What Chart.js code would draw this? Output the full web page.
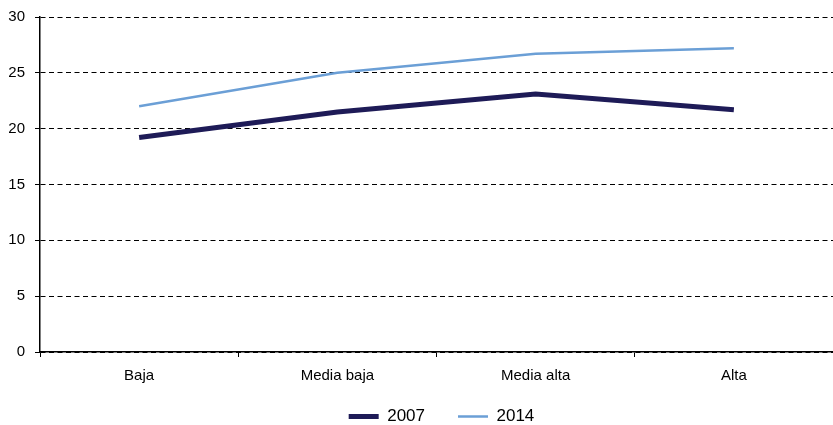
<!DOCTYPE html>
<html>
<head>
<meta charset="utf-8">
<script src="https://cdn.jsdelivr.net/npm/chart.js@4.4.1/dist/chart.umd.min.js"></script>
<style>
    html, body { margin: 0; padding: 0; background: #fff; }
    #wrap { width: 833px; height: 425px; position: relative; }
</style>
</head>
<body>
<div id="wrap"><canvas id="chart"></canvas></div>
<script>
// Categories and series
const categories = ['Baja', 'Media baja', 'Media alta', 'Alta'];
const values2007 = [19.2, 21.5, 23.1, 21.7];
const values2014 = [22.0, 25.0, 26.7, 27.2];
const seriesNames = ['2007', '2014'];
const yTicks = [0, 5, 10, 15, 20, 25, 30];

const FONT = '"Liberation Sans", Arial, sans-serif';

/**
 * Keep the legend strip short, but leave wide gaps between its items
 */
const legendPlacement = {
    id: 'legendPlacement',
    beforeInit(chart) {
        const fit = chart.legend.fit;
        chart.legend.fit = function() {
            fit.bind(chart.legend)();
            this.height = 30;
        };
    },
    afterLayout(chart) {
        const legend = chart.legend;
        legend.top -= 20;
        legend.left += 25;
        legend.right += 25;
    }
};

const ctx = document.getElementById('chart').getContext('2d');

new Chart(ctx, {
    type: 'line',
    data: {
        labels: categories,
        datasets: [
            {
                label: seriesNames[0],
                data: values2007,
                borderColor: '#1e1b57',
                backgroundColor: '#1e1b57',
                borderWidth: 5,
                pointRadius: 0,
                tension: 0
            },
            {
                label: seriesNames[1],
                data: values2014,
                borderColor: '#6b9fd6',
                backgroundColor: '#6b9fd6',
                borderWidth: 2.5,
                pointRadius: 0,
                tension: 0
            }
        ]
    },
    options: {
        responsive: true,
        maintainAspectRatio: false,
        animation: false,
        layout: {
            padding: { top: 17, right: 0, left: 0, bottom: 0 }
        },
        plugins: {
            legend: {
                position: 'bottom',
                labels: {
                    usePointStyle: true,
                    pointStyle: 'line',
                    pointStyleWidth: 30,
                    boxHeight: 17,
                    padding: 33,
                    color: '#000',
                    font: { family: FONT, size: 17 }
                }
            },
            tooltip: { enabled: false }
        },
        scales: {
            x: {
                offset: true,
                afterFit: function(scale) {
                    scale.height = 43;
                },
                grid: {
                    offset: true,
                    drawOnChartArea: false,
                    drawTicks: true,
                    tickLength: 5,
                    color: '#000'
                },
                border: { color: '#000', width: 1.5 },
                ticks: {
                    color: '#000',
                    padding: 10,
                    font: { family: FONT, size: 15 }
                }
            },
            y: {
                min: 0,
                max: 30,
                afterBuildTicks: function(scale) {
                    scale.ticks = yTicks.map(v => ({ value: v }));
                },
                afterFit: function(scale) {
                    scale.width = 40;
                    scale.paddingTop = 0;
                    scale.paddingBottom = 0;
                },
                grid: {
                    color: '#000',
                    lineWidth: 1,
                    drawTicks: true,
                    tickLength: 5,
                    tickBorderDash: []
                },
                border: { color: '#000', width: 1.5, dash: [5, 3.5] },
                ticks: {
                    color: '#000',
                    padding: 10,
                    font: { family: FONT, size: 15 }
                }
            }
        }
    },
    plugins: [legendPlacement]
});
</script>
</body>
</html>
